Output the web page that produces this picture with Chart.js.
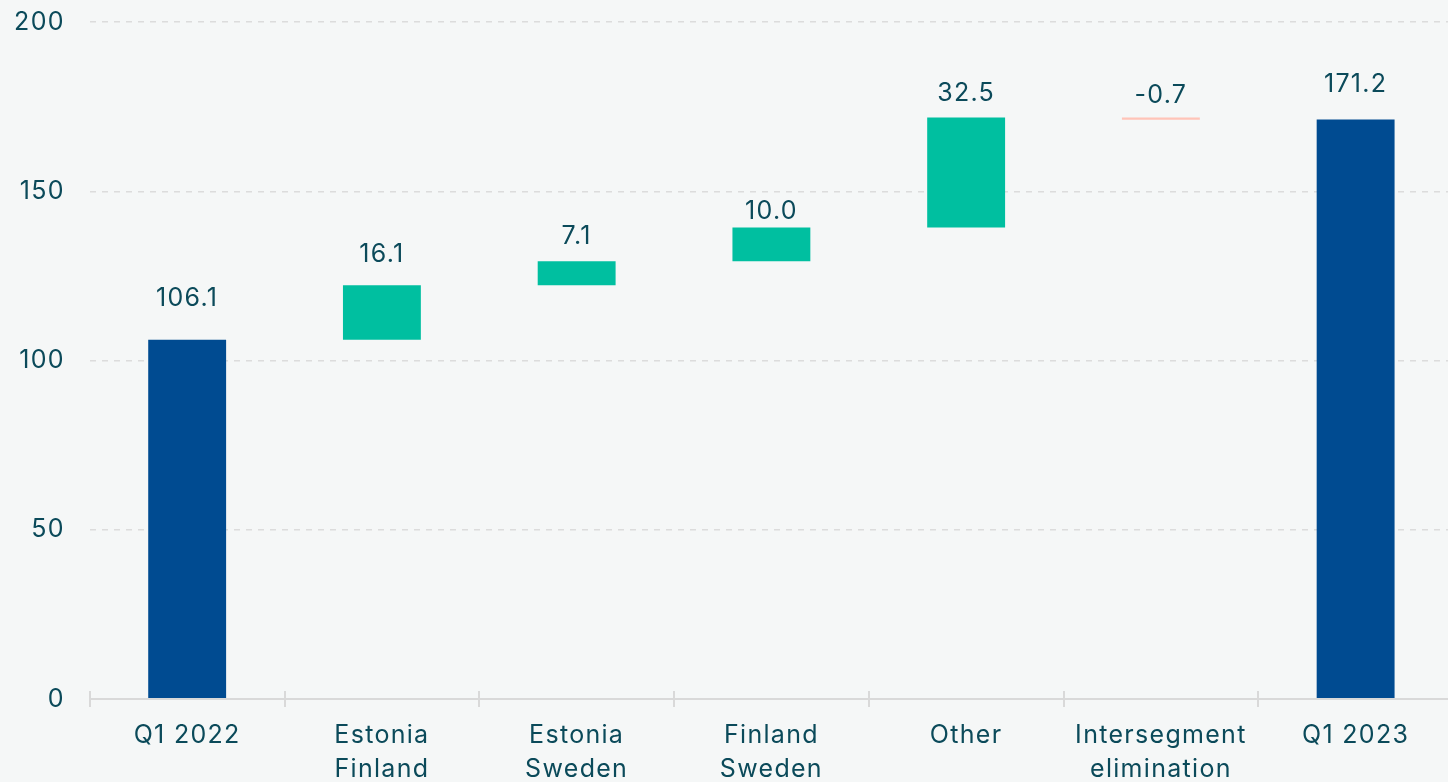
<!DOCTYPE html>
<html>
<head>
<meta charset="utf-8">
<script src="https://cdn.jsdelivr.net/npm/chart.js@4.4.1/dist/chart.umd.min.js"></script>
<style>
  html, body { margin: 0; padding: 0; background: #f5f7f7; overflow: hidden; width: 1448px; height: 782px; }
  #wrap { width: 1470px; height: 815px; margin-left: -17px; margin-top: -18px; }
</style>
</head>
<body>
<div id="wrap"><canvas id="myChart"></canvas></div>
<script>
const categories = [["Q1 2022"], ["Estonia", "Finland"], ["Estonia", "Sweden"], ["Finland", "Sweden"], ["Other"], ["Intersegment", "elimination"], ["Q1 2023"]];
const values = [106.1, 16.1, 7.1, 10.0, 32.5, -0.7, 171.2];
const isTotal = [true, false, false, false, false, false, true];
const yTicks = [0, 50, 100, 150, 200];

const TEXT = "#0b4a5a";
const FONT = "Inter";
const labelGap = [34, 23, 17, 8, 16, 14, 27];

// waterfall ranges
let running = 0;
const ranges = values.map((v, i) => {
  if (isTotal[i]) { running = v; return [0, v]; }
  const r = [running, running + v];
  running += v;
  return r;
});
const colors = values.map((v, i) => isTotal[i] ? "#004b91" : (v < 0 ? "#ffc4b8" : "#00bfa0"));

// wider text spacing for the whole chart
const spacing = {
  id: "spacing",
  beforeInit(chart) { chart.ctx.letterSpacing = "1.3px"; },
  beforeDraw(chart) { chart.ctx.letterSpacing = "1.3px"; }
};

const valueLabels = {
  id: "valueLabels",
  afterDatasetsDraw(chart) {
    const ctx = chart.ctx;
    const meta = chart.getDatasetMeta(0);
    ctx.save();
    ctx.letterSpacing = "1.3px";
    ctx.font = "25px " + FONT;
    ctx.fillStyle = TEXT;
    ctx.textAlign = "center";
    ctx.textBaseline = "alphabetic";
    meta.data.forEach((bar, i) => {
      const top = Math.min(bar.y, bar.base);
      ctx.fillText(values[i].toFixed(1), bar.x, top - labelGap[i]);
    });
    ctx.restore();
  }
};

const axisTicks = {
  id: "axisTicks",
  afterDraw(chart) {
    const ctx = chart.ctx;
    const x = chart.scales.x;
    const y0 = chart.scales.y.getPixelForValue(0);
    const step = x.getPixelForValue(1) - x.getPixelForValue(0);
    ctx.save();
    ctx.strokeStyle = "#d9d9d9";
    ctx.lineWidth = 2;
    ctx.beginPath();
    ctx.moveTo(chart.chartArea.left, y0);
    ctx.lineTo(chart.chartArea.right, y0);
    for (let i = 0; i < categories.length; i++) {
      const px = Math.round(x.getPixelForValue(i) - step / 2);
      ctx.moveTo(px, y0 - 8);
      ctx.lineTo(px, y0 + 8);
    }
    ctx.stroke();
    ctx.restore();
  }
};

new Chart(document.getElementById("myChart").getContext("2d"), {
  type: "bar",
  data: {
    labels: categories,
    datasets: [{
      data: ranges,
      backgroundColor: colors,
      borderSkipped: false,
      barPercentage: 0.4,
      categoryPercentage: 1.0
    }]
  },
  options: {
    responsive: true,
    maintainAspectRatio: false,
    animation: false,
    layout: { padding: { top: -8, right: 0, left: 10, bottom: 0 } },
    plugins: { legend: { display: false }, tooltip: { enabled: false } },
    scales: {
      x: {
        grid: { display: false },
        border: { display: false },
        ticks: { color: TEXT, font: { family: FONT, size: 25, lineHeight: 1.36 }, padding: 11, maxRotation: 0, autoSkip: false }
      },
      y: {
        min: 0,
        max: 200,
        afterBuildTicks(scale) { scale.ticks = yTicks.map(v => ({ value: v })); },
        grid: {
          color: (c) => c.tick && c.tick.value === 0 ? "rgba(0,0,0,0)" : "#dcdcdc",
          lineWidth: 1.5,
          drawTicks: false
        },
        border: { display: false, dash: [6, 6] },
        ticks: { color: TEXT, font: { family: FONT, size: 25 }, padding: 25 }
      }
    }
  },
  plugins: [spacing, valueLabels, axisTicks]
});
</script>
</body>
</html>
